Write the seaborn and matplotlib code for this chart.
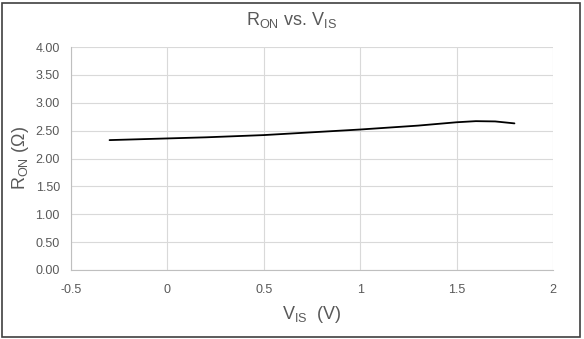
import matplotlib
matplotlib.use("Agg")
import matplotlib.pyplot as plt
import seaborn as sns
import pandas as pd

vis = [-0.3, 0.0, 0.2, 0.5, 0.8, 1.0, 1.3, 1.5, 1.6, 1.7, 1.8]
ron = [2.33, 2.36, 2.38, 2.42, 2.48, 2.52, 2.59, 2.65, 2.67, 2.665, 2.63]
xticks = [-0.5, 0, 0.5, 1, 1.5, 2]
xtick_labels = ["-0.5", "0", "0.5", "1", "1.5", "2"]
yticks = [0.0, 0.5, 1.0, 1.5, 2.0, 2.5, 3.0, 3.5, 4.0]

df = pd.DataFrame({"VIS": vis, "RON": ron})

sns.set_theme(style="white")
plt.rcParams["font.family"] = ["Liberation Sans", "DejaVu Sans"]
plt.rcParams["mathtext.default"] = "regular"

fig = plt.figure(figsize=(5.84, 3.39), dpi=100)
ax = fig.add_axes([71/584, 1-270/339, (553-71)/584, (270-47)/339])

sns.lineplot(data=df, x="VIS", y="RON", ax=ax, color="black", linewidth=1.3)

ax.set_xlim(-0.5, 2)
ax.set_ylim(0, 4)
ax.set_xticks(xticks)
ax.set_xticklabels(xtick_labels)
ax.set_yticks(yticks)
ax.set_yticklabels([f"{v:.2f}" for v in yticks])
ax.grid(True, color="#d9d9d9", linewidth=0.8)
ax.set_axisbelow(True)
for s in ["top", "right"]:
    ax.spines[s].set_visible(False)
for s in ["left", "bottom"]:
    ax.spines[s].set_color("#bfbfbf")
    ax.spines[s].set_linewidth(0.8)
ax.tick_params(axis="both", colors="#595959", labelsize=9, length=0, pad=8)
ax.tick_params(axis="x", pad=10)

ax.set_xlabel(r"V$_{IS}$  (V)", fontsize=13, color="#595959", labelpad=6)
ax.set_ylabel(r"R$_{ON}$ ($\Omega$)", fontsize=13, color="#595959", labelpad=3)
fig.text(0.5, 1-20/339, r"R$_{ON}$ vs. V$_{IS}$", ha="center", va="center",
         fontsize=13, color="#595959")

border = plt.Rectangle((0.004, 0.006), 0.99, 0.985, transform=fig.transFigure,
                       fill=False, edgecolor="#404040", linewidth=1.2)
fig.patches.append(border)

fig.savefig("out.png", dpi=100)
